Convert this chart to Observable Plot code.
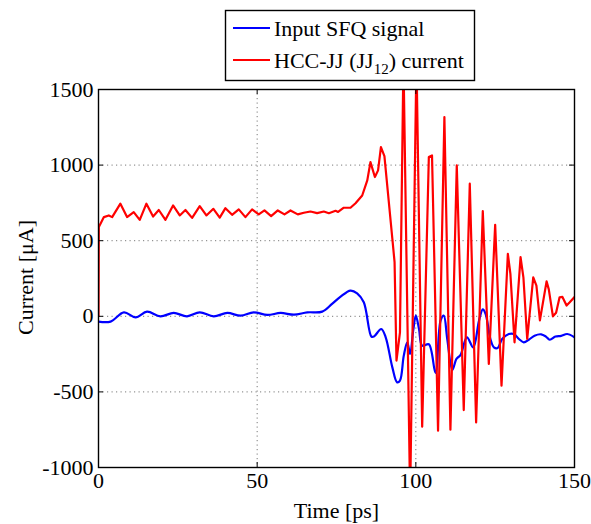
<!DOCTYPE html>
<html>
<head>
<meta charset="utf-8">
<script src="https://cdn.jsdelivr.net/npm/d3@7"></script>
<script src="https://cdn.jsdelivr.net/npm/@observablehq/plot@0.6"></script>
<style>
  html, body { margin: 0; padding: 0; background: #fff; }
  #wrap { position: relative; width: 591px; height: 524px; font-family: "Liberation Serif", "Times New Roman", serif; }
  #wrap svg text { font-family: "Liberation Serif", "Times New Roman", serif; }
  #legend { position: absolute; left: 0; top: 0; }
</style>
</head>
<body>
<div id="wrap"></div>
<script>
// ---- data ----
const seriesNames = ["Input SFQ signal", "HCC-JJ (JJ12) current"];
const xTicks = [0, 50, 100, 150];
const yTicks = [-1000, -500, 0, 500, 1000, 1500];

const blueT = [0, 3.8, 8.0, 11.7, 15.3, 19.5, 23.7, 27.9, 31.9, 36.3, 40.6, 44.8, 48.9, 53.2, 57.4, 61.6, 65.8, 70.5, 73.6, 76.3, 79.4, 81.5, 83.6, 86.0, 86.8, 89.1, 90.5, 92.6, 94.1, 95.0, 96.2, 97.3, 98.2, 99.2, 100.0, 101.0, 102.0, 104.1, 106.2, 107.8, 108.8, 109.9, 111.5, 112.8, 114.1, 116.1, 118.1, 119.9, 121.1, 122.0, 123.5, 124.6, 125.8, 127.2, 129.3, 130.9, 132.5, 134.0, 135.6, 137.4, 139.5, 141.0, 142.2, 144.0, 145.8, 147.7, 150];
const blueV = [-35, -35, 26, -7, 31, 0, 22, 0, 26, 0, 22, 4, 26, 9, 22, 11, 26, 31, 82, 130, 170, 152, 93, -134, -134, -84, -139, -338, -437, -426, -260, -172, -249, -90, 4, -84, -194, -185, -375, -29, 4, -150, -355, -282, -255, -139, -205, -29, 46, 15, -150, -205, -210, -150, -117, -117, -150, -172, -155, -128, -119, -134, -155, -134, -129, -117, -139];

const redT = [0, 0.1, 1.7, 3.25, 4.3, 6.9, 9.0, 11.1, 13.0, 15.1, 17.2, 19.0, 21.1, 23.5, 25.6, 27.4, 29.5, 31.9, 34.0, 36.2, 38.2, 40.0, 42.1, 44.2, 46.3, 48.4, 50.5, 52.3, 54.4, 56.5, 58.6, 60.5, 62.8, 64.7, 66.8, 68.9, 71.0, 72.6, 74.7, 75.5, 77.3, 79.4, 81.0, 83.1, 84.7, 85.7, 87.1, 88.1, 89.0, 90.1, 92.6, 93.3, 93.9, 95.0, 96.1, 98.2, 100.2, 102.0, 104.1, 105.1, 107.0, 109.0, 110.9, 112.9, 115.1, 117.0, 119.0, 121.1, 123.0, 125.0, 127.0, 129.0, 129.8, 131.1, 133.0, 133.9, 135.1, 137.0, 138.0, 139.1, 141.2, 141.9, 143.2, 144.2, 145.3, 146.2, 147.5, 148.5, 150];
const redV = [0, 590, 656, 667, 656, 745, 656, 689, 638, 745, 660, 703, 638, 733, 667, 703, 651, 729, 667, 711, 653, 715, 671, 707, 656, 707, 674, 700, 663, 700, 674, 700, 674, 685, 693, 682, 693, 682, 698, 690, 718, 718, 748, 799, 899, 1020, 921, 965, 1119, 1060, 513, 358, -293, -106, 1700, -1200, 1700, -730, 1053, 1064, -757, 1318, -750, 998, -620, 877, -702, 695, -315, 605, -459, 413, 281, -172, 391, 258, -150, 258, 203, -27, 231, 178, 0, 24, 126, 128, 71, 93, 128];

const colors = ["#0000ff", "#ff0000"];

const blue = blueT.map((t, i) => ({t, v: blueV[i]}));
const red = redT.map((t, i) => ({t, v: redV[i]}));

const W = 591, H = 524;
const mL = 98, mR = 17, mT = 89, mB = 57;
const plotW = W - mL - mR, plotH = H - mT - mB;
const font = "Liberation Serif, Times New Roman, serif";
const tickLen = 5;
const fmt = d => String(d);

const chart = Plot.plot({
  width: W, height: H,
  marginLeft: mL, marginRight: mR, marginTop: mT, marginBottom: mB,
  style: {fontFamily: font, fontSize: "22px", background: "#fff", color: "#000"},
  x: {domain: [0, 150], ticks: xTicks},
  y: {domain: [-1000, 1500], ticks: yTicks},
  marks: [
    Plot.gridX(xTicks.slice(1, -1), {stroke: "#7a7a7a", strokeOpacity: 1, strokeDasharray: "1.2,3.3", strokeWidth: 1}),
    Plot.gridY(yTicks.slice(1, -1), {stroke: "#7a7a7a", strokeOpacity: 1, strokeDasharray: "1.2,3.3", strokeWidth: 1}),
    Plot.line(blue, {x: "t", y: "v", stroke: colors[0], strokeWidth: 2.2, curve: "catmull-rom", clip: true}),
    Plot.line(red, {x: "t", y: "v", stroke: colors[1], strokeWidth: 2.2, clip: true}),
    Plot.tickY(yTicks, {y: d => d, insetRight: plotW - tickLen, stroke: "#000", strokeWidth: 1}),
    Plot.tickY(yTicks, {y: d => d, insetLeft: plotW - tickLen, stroke: "#000", strokeWidth: 1}),
    Plot.tickX(xTicks, {x: d => d, insetTop: plotH - tickLen, stroke: "#000", strokeWidth: 1}),
    Plot.tickX(xTicks, {x: d => d, insetBottom: plotH - tickLen, stroke: "#000", strokeWidth: 1}),
    Plot.frame({stroke: "#000", strokeWidth: 1.4}),
    Plot.axisX({ticks: xTicks, tickSize: 0, tickPadding: 5, fontSize: 22, fontFamily: font, tickFormat: fmt, label: null}),
    Plot.axisY({ticks: yTicks, tickSize: 0, tickPadding: 5, fontSize: 22, fontFamily: font, tickFormat: fmt, label: null}),
    Plot.text(["Time [ps]"], {frameAnchor: "bottom", dy: 43, lineAnchor: "middle", fontSize: 22, fontFamily: font}),
    Plot.text(["Current [\u03bcA]"], {frameAnchor: "left", rotate: -90, dx: -73, dy: -1, textAnchor: "middle", lineAnchor: "middle", fontSize: 22, fontFamily: font})
  ]
});

const wrap = document.getElementById("wrap");
wrap.appendChild(chart);

// legend overlay
const ns = "http://www.w3.org/2000/svg";
const leg = document.createElementNS(ns, "svg");
leg.setAttribute("id", "legend");
leg.setAttribute("width", W);
leg.setAttribute("height", 90);
const box = document.createElementNS(ns, "rect");
box.setAttribute("x", 225.5); box.setAttribute("y", 10.5);
box.setAttribute("width", 249); box.setAttribute("height", 70);
box.setAttribute("fill", "#fff"); box.setAttribute("stroke", "#000"); box.setAttribute("stroke-width", 1.4);
leg.appendChild(box);
const rowsY = [28, 60];
seriesNames.forEach((name, i) => {
  const ln = document.createElementNS(ns, "line");
  ln.setAttribute("x1", 233); ln.setAttribute("x2", 270);
  ln.setAttribute("y1", rowsY[i]); ln.setAttribute("y2", rowsY[i]);
  ln.setAttribute("stroke", colors[i]); ln.setAttribute("stroke-width", 2.2);
  leg.appendChild(ln);
  const tx = document.createElementNS(ns, "text");
  tx.setAttribute("x", 274); tx.setAttribute("y", rowsY[i] + 7.5);
  tx.setAttribute("font-family", font); tx.setAttribute("font-size", 22);
  const m = name.match(/^(.*\(JJ)(12)(\).*)$/);
  if (m) {
    const a = document.createElementNS(ns, "tspan"); a.textContent = m[1];
    const b = document.createElementNS(ns, "tspan"); b.textContent = m[2];
    b.setAttribute("font-size", 15); b.setAttribute("dy", 6);
    const c = document.createElementNS(ns, "tspan"); c.textContent = m[3]; c.setAttribute("dy", -6);
    tx.appendChild(a); tx.appendChild(b); tx.appendChild(c);
  } else {
    tx.textContent = name;
  }
  leg.appendChild(tx);
});
wrap.appendChild(leg);
</script>
</body>
</html>
